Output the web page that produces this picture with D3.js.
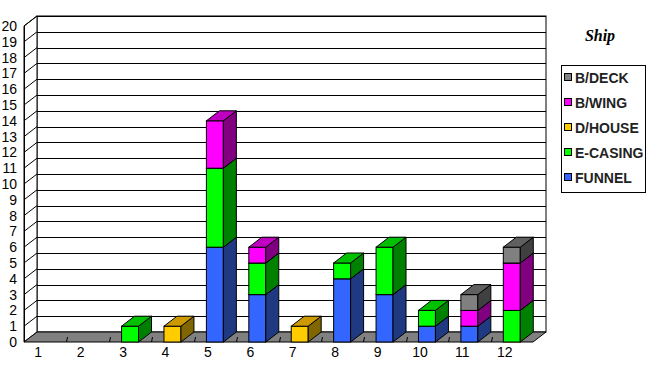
<!DOCTYPE html>
<html>
<head>
<meta charset="utf-8">
<script src="https://d3js.org/d3.v7.min.js"></script>
<style>
  body { margin: 0; background: #fff; }
  svg { display: block; }
</style>
</head>
<body>
<svg id="chart" width="653" height="381"></svg>
<script>
// categories and series
var categories = ["1", "2", "3", "4", "5", "6", "7", "8", "9", "10", "11", "12"];
var funnel  = [0, 0, 0, 0, 6, 3, 0, 4, 3, 1, 1, 0];
var eCasing = [0, 0, 1, 0, 5, 2, 0, 1, 3, 1, 0, 2];
var dHouse  = [0, 0, 0, 1, 0, 0, 1, 0, 0, 0, 0, 0];
var bWing   = [0, 0, 0, 0, 3, 1, 0, 0, 0, 0, 1, 3];
var bDeck   = [0, 0, 0, 0, 0, 0, 0, 0, 0, 0, 1, 1];
var seriesNames = ["FUNNEL", "E-CASING", "D/HOUSE", "B/WING", "B/DECK"];
var yTicks = d3.range(0, 21);
var title = "Ship";

// colours: front, top, side
var colors = {
	"FUNNEL":   ["#3366ff", "#2a52cc", "#1f3a80"],
	"E-CASING": ["#00ff00", "#00c000", "#008000"],
	"D/HOUSE":  ["#ffcc00", "#cc9900", "#806600"],
	"B/WING":   ["#ff00ff", "#c000c0", "#800080"],
	"B/DECK":   ["#808080", "#606060", "#404040"]
};

var rows = categories.map(function(c, i) {
	return { cat: c, "FUNNEL": funnel[i], "E-CASING": eCasing[i], "D/HOUSE": dHouse[i],
		"B/WING": bWing[i], "B/DECK": bDeck[i] };
});
var stacked = d3.stack().keys(seriesNames)(rows);

var svg = d3.select("#chart");
var DX = 13, DY = 10;
var x = d3.scaleBand().domain(categories).range([24, 533]).paddingInner(0.6).paddingOuter(0.3);
var band = d3.scaleBand().domain(categories).range([24, 533]);
var y = d3.scaleLinear().domain([0, 20]).range([342, 26]);
var font = "'Liberation Sans Narrow', 'Liberation Sans', Arial, sans-serif";

// back wall
svg.append("rect").attr("x", 24 + DX).attr("y", y(20) - DY)
	.attr("width", 509).attr("height", y(0) - y(20))
	.attr("fill", "#fff").attr("stroke", "#000");
// left wall
svg.append("path")
	.attr("d", "M24," + y(0) + "L24," + y(20) + "L" + (24 + DX) + "," + (y(20) - DY) + "L" + (24 + DX) + "," + (y(0) - DY) + "Z")
	.attr("fill", "#fff").attr("stroke", "#000");

// gridlines on back and left walls
var grid = svg.append("g").attr("stroke", "#000").attr("stroke-width", 1);
yTicks.forEach(function(v) {
	if (v === 0) return;
	grid.append("line").attr("x1", 24 + DX).attr("x2", 533 + DX)
		.attr("y1", Math.round(y(v) - DY) + 0.5).attr("y2", Math.round(y(v) - DY) + 0.5);
	grid.append("line").attr("x1", 24).attr("x2", 24 + DX)
		.attr("y1", y(v)).attr("y2", y(v) - DY);
});

// floor
svg.append("path")
	.attr("d", "M24," + y(0) + "L533," + y(0) + "L" + (533 + DX) + "," + (y(0) - DY) + "L" + (24 + DX) + "," + (y(0) - DY) + "Z")
	.attr("fill", "#808080").attr("stroke", "#000");
// category ticks on floor edge
categories.slice(1).forEach(function(c) {
	var bx = Math.round(band(c)) + 0.5;
	svg.append("line").attr("x1", bx).attr("x2", bx + 1).attr("y1", y(0)).attr("y2", y(0) - 5)
		.attr("stroke", "#000");
});
svg.append("line").attr("x1", 24.5).attr("x2", 24.5).attr("y1", y(20)).attr("y2", y(0)).attr("stroke", "#000");

// bars
stacked.forEach(function(s) {
	var c = colors[s.key];
	s.forEach(function(d, i) {
		if (d[1] - d[0] <= 0) return;
		var x0 = x(categories[i]), x1 = x0 + x.bandwidth();
		var yb = y(d[0]), yt = y(d[1]);
		var g = svg.append("g").attr("stroke", "#000").attr("stroke-width", 1);
		g.append("rect").attr("x", x0).attr("y", yt).attr("width", x1 - x0).attr("height", yb - yt)
			.attr("fill", c[0]);
		g.append("path")
			.attr("d", "M" + x1 + "," + yb + "L" + (x1 + DX) + "," + (yb - DY) + "L" + (x1 + DX) + "," + (yt - DY) + "L" + x1 + "," + yt + "Z")
			.attr("fill", c[2]);
		g.append("path")
			.attr("d", "M" + x0 + "," + yt + "L" + x1 + "," + yt + "L" + (x1 + DX) + "," + (yt - DY) + "L" + (x0 + DX) + "," + (yt - DY) + "Z")
			.attr("fill", c[1]);
	});
});

// y labels
svg.append("g").selectAll("text").data(yTicks).join("text")
	.attr("x", 17).attr("y", function(d) { return y(d); }).attr("dy", "0.36em")
	.attr("text-anchor", "end").attr("font-family", font).attr("font-size", 14)
	.text(function(d) { return d; });

// x labels
svg.append("g").selectAll("text").data(categories).join("text")
	.attr("x", function(d) { return band(d) + band.bandwidth() / 2 - 7; }).attr("y", 357)
	.attr("text-anchor", "middle").attr("font-family", font).attr("font-size", 14)
	.text(function(d) { return d; });

// title
svg.append("text").attr("x", 600).attr("y", 41).attr("text-anchor", "middle")
	.attr("font-family", "'Liberation Serif', 'Times New Roman', serif")
	.attr("font-weight", "bold").attr("font-style", "italic").attr("font-size", 16)
	.text(title);

// legend
var legend = svg.append("g");
legend.append("rect").attr("x", 561.5).attr("y", 65.5).attr("width", 84).attr("height", 127)
	.attr("fill", "#fff").attr("stroke", "#000");
seriesNames.slice().reverse().forEach(function(name, i) {
	var ly = 78 + i * 25;
	legend.append("rect").attr("x", 564.5).attr("y", ly - 4.5).attr("width", 7).attr("height", 7)
		.attr("fill", colors[name][0]).attr("stroke", "#000");
	legend.append("text").attr("x", 575).attr("y", ly).attr("dy", "0.36em")
		.attr("font-family", "'Liberation Sans', Arial, sans-serif").attr("font-weight", "bold")
		.attr("font-size", 14).attr("fill", "#222").text(name);
});
</script>
</body>
</html>
